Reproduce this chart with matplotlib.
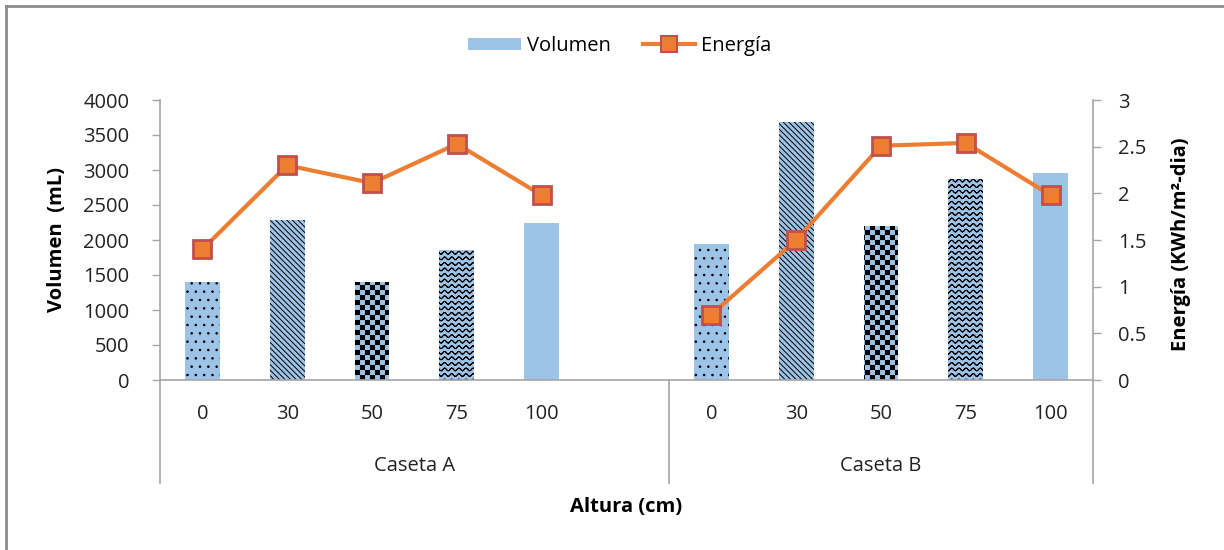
import warnings
import numpy as np
import matplotlib
matplotlib.use("Agg")
import matplotlib.pyplot as plt
import matplotlib.hatch as mhatch
from matplotlib.path import Path
from matplotlib.patches import Patch
from matplotlib.lines import Line2D
from matplotlib.ticker import FuncFormatter, MultipleLocator

warnings.filterwarnings("ignore")

# ---------------- data ----------------
alturas = ["0", "30", "50", "75", "100"]
grupos = ["Caseta A", "Caseta B"]
volumen_A = [1400, 2280, 1400, 1860, 2240]
volumen_B = [1950, 3690, 2200, 2870, 2960]
energia_A = [1.40, 2.30, 2.11, 2.53, 1.98]
energia_B = [0.70, 1.50, 2.51, 2.54, 1.98]

# ---------------- custom hatch patterns (checkerboard, wavy) ----------------
class CheckerHatch(mhatch.HatchPatternBase):
    def __init__(self, hatch, density):
        n = 20 if "c" in hatch else 0
        self.n = n
        self.cells = [(i, j) for i in range(n) for j in range(n) if (i + j) % 2 == 0]
        self.num_vertices = 5 * len(self.cells)

    def set_vertices_and_codes(self, vertices, codes):
        s = 1.0 / self.n
        k = 0
        for i, j in self.cells:
            x0, y0 = i * s, j * s
            vertices[k:k + 5] = [(x0, y0), (x0 + s, y0), (x0 + s, y0 + s),
                                 (x0, y0 + s), (x0, y0)]
            codes[k:k + 5] = [Path.MOVETO, Path.LINETO, Path.LINETO,
                              Path.LINETO, Path.CLOSEPOLY]
            k += 5


class WaveHatch(mhatch.HatchPatternBase):
    def __init__(self, hatch, density):
        self.rows = 18 if "w" in hatch else 0
        self.periods = 14
        self.npts = self.periods * 8 + 1
        self.num_vertices = self.rows * 2 * self.npts

    def set_vertices_and_codes(self, vertices, codes):
        x = np.linspace(0, 1, self.npts)
        dy = 0.014 * np.sin(2 * np.pi * self.periods * x)
        m = 2 * self.npts
        k = 0
        for r in range(self.rows):
            y0 = (r + 0.5) / self.rows
            fwd = np.column_stack([x, y0 + dy])
            vertices[k:k + m] = np.vstack([fwd, fwd[::-1]])
            codes[k] = Path.MOVETO
            codes[k + 1:k + m] = Path.LINETO
            k += m


mhatch._hatch_types.append(CheckerHatch)
mhatch._hatch_types.append(WaveHatch)
try:
    mhatch._validate_hatch_pattern = lambda h: None
except Exception:
    pass

# ---------------- style ----------------
FONT = "Open Sans"
plt.rcParams["font.family"] = [FONT, "DejaVu Sans"]
BAR_COLOR = "#9DC3E6"
LINE_COLOR = "#ED7D31"
MARKER_EDGE = "#C0504D"
AXIS_GRAY = "#A6A6A6"
TXT = "#222222"

hatches = ["..", "\\\\\\\\\\\\", "c", "w", ""]
hatch_lw = [0.6, 0.7, 0.05, 0.7, 0.5]

fig = plt.figure(figsize=(12.24, 5.5), dpi=100)
W, H = 1224, 550
x_left, x_right, y_top, y_bot = 160, 1093, 100, 380
ax = fig.add_axes([x_left / W, 1 - y_bot / H, (x_right - x_left) / W, (y_bot - y_top) / H])
ax2 = ax.twinx()

n = len(alturas)
pos_A = np.arange(n)
pos_B = np.arange(n) + n + 1
width = 0.41

for positions, vals in [(pos_A, volumen_A), (pos_B, volumen_B)]:
    for i, (p, v) in enumerate(zip(positions, vals)):
        with plt.rc_context({"hatch.linewidth": hatch_lw[i]}):
            bars = ax.bar(p, v, width=width, color=BAR_COLOR, edgecolor="black",
                          linewidth=0, hatch=hatches[i] if hatches[i] else None,
                          zorder=2)
        for b in bars:
            if hasattr(b, "set_hatch_linewidth"):
                b.set_hatch_linewidth(hatch_lw[i])

# energy line (gap between casetas)
x_all = np.concatenate([pos_A, [n], pos_B])
e_all = np.concatenate([energia_A, [np.nan], energia_B])
ax2.plot(x_all, e_all, color=LINE_COLOR, lw=3, marker="s", markersize=13,
         markerfacecolor=LINE_COLOR, markeredgecolor=MARKER_EDGE,
         markeredgewidth=2, zorder=5, clip_on=False)

# axes limits / ticks
ax.set_xlim(-0.5, 2 * n + 0.5)
ax.set_ylim(0, 4000)
ax2.set_ylim(0, 3)
ax.yaxis.set_major_locator(MultipleLocator(500))
ax2.yaxis.set_major_locator(MultipleLocator(0.5))
ax2.yaxis.set_major_formatter(FuncFormatter(lambda v, p: f"{v:g}"))

ax.set_xticks(np.concatenate([pos_A, pos_B]))
ax.set_xticklabels(alturas + alturas)
ax.tick_params(axis="x", length=0, pad=17, labelsize=14.5, labelcolor=TXT)
ax.tick_params(axis="y", length=6, width=1, color=AXIS_GRAY, pad=16,
               labelsize=14.5, labelcolor=TXT, direction="out")
ax2.tick_params(axis="y", length=6, width=1, color=AXIS_GRAY, pad=12,
                labelsize=14.5, labelcolor=TXT, direction="out")

for a in (ax, ax2):
    a.spines["top"].set_visible(False)
    for s in ("left", "right", "bottom"):
        a.spines[s].set_color(AXIS_GRAY)
        a.spines[s].set_linewidth(1.2)
ax.spines["right"].set_visible(False)
ax2.spines["left"].set_visible(False)
ax2.spines["bottom"].set_visible(False)
ax.set_zorder(1)
ax2.set_zorder(2)
ax.patch.set_visible(False)

# category separators below axis
trans = ax.get_xaxis_transform()
sep_bottom = -(483 - y_bot) / (y_bot - y_top)
for xs in (-0.5, n + 0.5, 2 * n + 0.5):
    ax.plot([xs, xs], [0, sep_bottom], color=AXIS_GRAY, lw=1.2,
            transform=trans, clip_on=False, zorder=1)

# group labels
grp_y = -(466 - y_bot) / (y_bot - y_top)
ax.text((pos_A[0] - 0.5 + n + 0.5) / 2, grp_y, grupos[0], transform=trans,
        ha="center", va="center", fontsize=14.5, color=TXT)
ax.text((pos_B[0] + pos_B[-1]) / 2, grp_y, grupos[1], transform=trans,
        ha="center", va="center", fontsize=14.5, color=TXT)

# axis titles
fig.text(57 / W, 1 - 240 / H, "Volumen  (mL)", rotation=90, ha="center",
         va="center", fontsize=14.5, fontweight="bold", color="black")
fig.text(1181 / W, 1 - 244 / H, "Energía (KWh/m²-dia)", rotation=90,
         ha="center", va="center", fontsize=14.5, fontweight="bold", color="black")
fig.text(626 / W, 1 - 507 / H, "Altura (cm)", ha="center", va="center",
         fontsize=14.5, fontweight="bold", color="black")

# legend
handles = [Patch(facecolor=BAR_COLOR, edgecolor="none", label="Volumen"),
           Line2D([0], [0], color=LINE_COLOR, lw=3, marker="s", markersize=12,
                  markerfacecolor=LINE_COLOR, markeredgecolor=MARKER_EDGE,
                  markeredgewidth=1.5, label="Energía")]
fig.legend(handles=handles, loc="center", bbox_to_anchor=(620 / W, 1 - 46 / H),
           ncol=2, frameon=False, fontsize=14.5, handlelength=2.6,
           handleheight=0.6, handletextpad=0.3, columnspacing=1.6)

# outer frame (top and left edges)
fig.add_artist(Line2D([6 / W, 1], [1 - 6 / H, 1 - 6 / H], transform=fig.transFigure,
                      color="#8C8C8C", lw=2))
fig.add_artist(Line2D([6 / W, 6 / W], [0, 1 - 6 / H], transform=fig.transFigure,
                      color="#8C8C8C", lw=2))

fig.savefig("out.png", dpi=100)
